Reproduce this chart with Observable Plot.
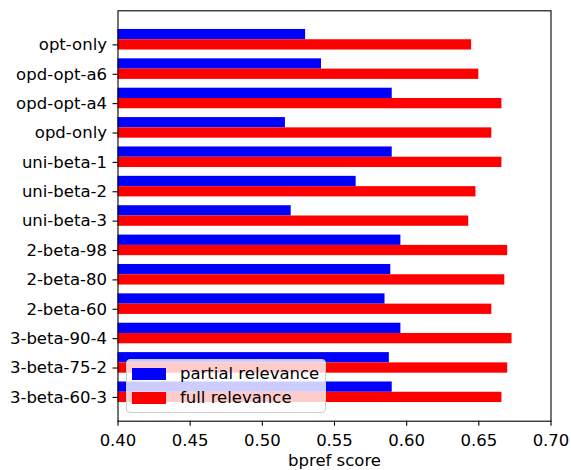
<!DOCTYPE html>
<html>
<head>
<meta charset="utf-8">
<script src="https://cdn.jsdelivr.net/npm/d3@7"></script>
<script src="https://cdn.jsdelivr.net/npm/@observablehq/plot@0.6"></script>
<style>
  html, body { margin: 0; padding: 0; background: #fff; }
  #chart { position: relative; width: 571px; height: 470px; font-family: "DejaVu Sans", sans-serif; }
  .legend { position: absolute; left: 126px; top: 359px; width: 198px; height: 52px;
            background: rgba(255,255,255,0.8); border: 1px solid #cccccc; border-radius: 4px;
            font-size: 16.5px; color: #000; }
  .legend .row { position: absolute; left: 5px; height: 12px; }
  .legend .sw { position: absolute; left: 0; top: 0; width: 34px; height: 12px; }
  .legend .lb { position: absolute; left: 48px; top: -4px; white-space: nowrap; line-height: 20px; }
</style>
</head>
<body>
<div id="chart"></div>
<script>
// Runs, top to bottom
const categories = [
  "opt-only", "opd-opt-a6", "opd-opt-a4", "opd-only",
  "uni-beta-1", "uni-beta-2", "uni-beta-3",
  "2-beta-98", "2-beta-80", "2-beta-60",
  "3-beta-90-4", "3-beta-75-2", "3-beta-60-3"
];
// bpref scores
const partialRelevance = [0.530, 0.541, 0.590, 0.516, 0.590, 0.565, 0.520, 0.596, 0.589, 0.585, 0.596, 0.588, 0.590];
const fullRelevance    = [0.645, 0.650, 0.666, 0.659, 0.666, 0.648, 0.643, 0.670, 0.668, 0.659, 0.673, 0.670, 0.666];
const seriesNames = ["partial relevance", "full relevance"];
const seriesColors = ["#0000ff", "#ff0000"];
const xTicks = [0.40, 0.45, 0.50, 0.55, 0.60, 0.65, 0.70];

const barH = 0.35;
const rows = categories.flatMap((c, i) => [
  {cat: c, series: seriesNames[0], value: partialRelevance[i], y1: i - 1.5 * barH, y2: i - 0.5 * barH},
  {cat: c, series: seriesNames[1], value: fullRelevance[i],    y1: i - 0.5 * barH, y2: i + 0.5 * barH}
]);

const fs = 16.5;
const plot = Plot.plot({
  width: 571,
  height: 470,
  marginLeft: 117.5,
  marginRight: 20.5,
  marginTop: 10.3,
  marginBottom: 49.3,
  style: {fontFamily: "DejaVu Sans, sans-serif", fontSize: fs + "px", color: "#000", background: "#fff"},
  x: {domain: [0.4, 0.7]},
  y: {domain: [-1.16, 12.81], reverse: true},
  color: {domain: seriesNames, range: seriesColors},
  marks: [
    Plot.rectX(rows, {x1: 0, x2: "value", y1: "y1", y2: "y2", fill: "series", clip: true}),
    Plot.frame({stroke: "#000", strokeWidth: 1.1}),
    Plot.axisX({
      ticks: xTicks, tickFormat: d3.format(".2f"), tickSize: 5, tickPadding: 8,
      fontSize: fs, strokeWidth: 1.1,
      label: "bpref score", labelAnchor: "center", labelArrow: "none", labelOffset: 45
    }),
    Plot.axisY({
      ticks: d3.range(categories.length), tickFormat: i => categories[i],
      tickSize: 5, tickPadding: 6, fontSize: fs, strokeWidth: 1.1, label: null
    })
  ]
});

const chart = document.getElementById("chart");
chart.appendChild(plot);

// Legend box over the lower-left of the plot area
const legend = document.createElement("div");
legend.className = "legend";
seriesNames.forEach((name, k) => {
  const row = document.createElement("div");
  row.className = "row";
  row.style.top = (7.5 + k * 24) + "px";
  const sw = document.createElement("div");
  sw.className = "sw";
  sw.style.background = seriesColors[k];
  const lb = document.createElement("div");
  lb.className = "lb";
  lb.textContent = name;
  row.appendChild(sw);
  row.appendChild(lb);
  legend.appendChild(row);
});
chart.appendChild(legend);
</script>
</body>
</html>
